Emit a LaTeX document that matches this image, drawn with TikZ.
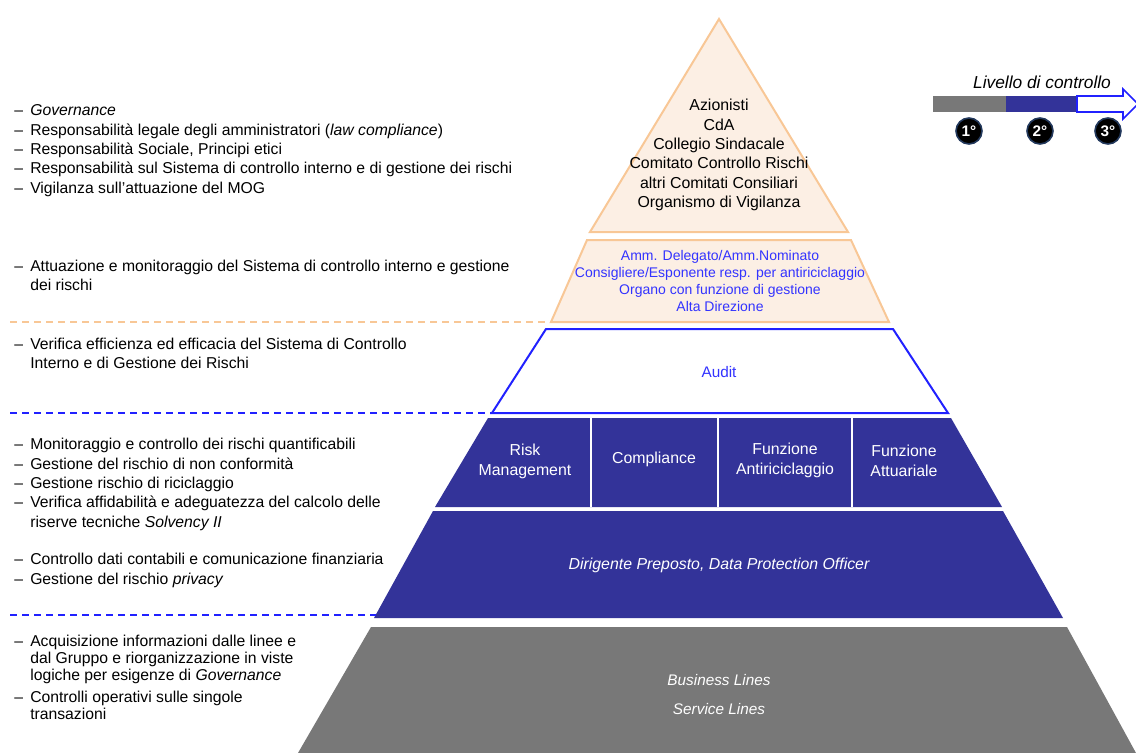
\documentclass[tikz,border=0pt]{standalone}
\usepackage{fontspec}
\setmainfont{Liberation Sans}
\usepackage{tikz}
\definecolor{cr_blu}{HTML}{333399}
\definecolor{cr_grigio}{HTML}{787878}
\definecolor{cr_pesca}{HTML}{FCEFE4}
\definecolor{cr_arancio}{HTML}{F8C796}
\definecolor{cr_linea}{HTML}{2121FF}
\definecolor{cr_testo}{HTML}{3333FF}
\definecolor{cr_bordo}{HTML}{23395D}
\newcommand{\voce}{\makebox[12pt][l]{–}}
\newcommand{\rientro}{\hspace*{12pt}}

\begin{document}
\begin{tikzpicture}[x=0.75pt, y=-0.75pt,
    elenco/.style={anchor=west, inner sep=0pt, align=left, font=\fontsize{11.8}{14.5}\selectfont},
    livello/.style={line width=1.5pt},
    bianco/.style={text=white, align=center, font=\fontsize{11.9}{15}\selectfont},
    grado/.style={circle, fill=black, draw=cr_bordo, line width=1.2pt, minimum size=19.5pt, inner sep=0pt, text=white, font=\bfseries\fontsize{11.5}{13}\selectfont},
    traccia/.style={dashed, line width=1.5pt, dash pattern=on 5.5pt off 3.5pt}]
    \useasboundingbox (0,0) rectangle (1136,753);

    % vertici della piramide
    \coordinate (apice) at (719,19);
    \coordinate (t_sx) at (590,232);
    \coordinate (t_dx) at (848,232);
    \coordinate (o_nw) at (587,240);
    \coordinate (o_ne) at (851,240);
    \coordinate (o_se) at (889,322);
    \coordinate (o_sw) at (551,322);
    \coordinate (a_nw) at (546,329);
    \coordinate (a_ne) at (893,329);
    \coordinate (a_se) at (948,413);
    \coordinate (a_sw) at (492,413);
    \coordinate (r_nw) at (488,418);
    \coordinate (r_ne) at (951,418);
    \coordinate (r_se) at (1002,507);
    \coordinate (r_sw) at (435,507);
    \coordinate (d_nw) at (433,511);
    \coordinate (d_ne) at (1003,511);
    \coordinate (d_se) at (1063,618);
    \coordinate (d_sw) at (374,618);
    \coordinate (g_nw) at (371,627);
    \coordinate (g_ne) at (1067,627);
    \coordinate (g_se) at (1136,753);
    \coordinate (g_sw) at (298,753);

    \filldraw[fill=cr_pesca, draw=cr_arancio, livello] (apice) -- (t_dx) -- (t_sx) -- cycle;
    \filldraw[fill=cr_pesca, draw=cr_arancio, livello] (o_nw) -- (o_ne) -- (o_se) -- (o_sw) -- cycle;
    \filldraw[fill=white, draw=cr_linea, livello] (a_nw) -- (a_ne) -- (a_se) -- (a_sw) -- cycle;
    \fill[cr_blu] (r_nw) -- (r_ne) -- (r_se) -- (r_sw) -- cycle;
    \fill[cr_blu] (d_nw) -- (d_ne) -- (d_se) -- (d_sw) -- cycle;
    \fill[cr_grigio] (g_nw) -- (g_ne) -- (g_se) -- (g_sw) -- cycle;
    \foreach \xx in {591,718,852}
        \draw[white, livello] (\xx,418) -- (\xx,507);

    % linee di separazione
    \coordinate (l1) at (10,322);
    \coordinate (l2) at (10,413);
    \coordinate (l3) at (10,615);
    \coordinate (l3e) at (376,615);
    \draw[traccia, cr_arancio] (l1) -- (o_sw);
    \draw[traccia, cr_linea] (l2) -- (a_sw);
    \draw[traccia, cr_linea] (l3) -- (l3e);

    % testi nella piramide
    \node[align=center, font=\fontsize{11.9}{14.5}\selectfont] (vertice) at (719,155)
        {Azionisti\\CdA\\Collegio Sindacale\\Comitato Controllo Rischi\\altri Comitati Consiliari\\Organismo di Vigilanza};
    \node[align=center, text=cr_testo, font=\fontsize{10.5}{12.75}\selectfont] (direzione) at (720,281)
        {Amm. Delegato/Amm.Nominato\\Consigliere/Esponente resp. per antiriciclaggio\\Organo con funzione di gestione\\Alta Direzione};
    \node[text=cr_testo, font=\fontsize{11.5}{13}\selectfont] (audit) at (719,372) {Audit};
    \node[bianco] (risk) at (525,461) {Risk\\Management};
    \node[bianco] (compliance) at (654,459) {Compliance};
    \node[bianco] (antiric) at (785,460) {Funzione\\Antiriciclaggio};
    \node[bianco] (attuariale) at (904,461) {Funzione\\Attuariale};
    \node[bianco, font=\itshape\fontsize{11.9}{14}\selectfont] (dirigente) at (719,565) {Dirigente Preposto, Data Protection Officer};
    \node[bianco, font=\itshape\fontsize{11.5}{13}\selectfont] (business) at (719,680) {Business Lines};
    \node[bianco, font=\itshape\fontsize{11.5}{13}\selectfont] (service) at (719,709) {Service Lines};

    % elenchi a sinistra
    \node[elenco] (governo) at (14,150.5)
        {\voce\textit{Governance}\\
         \voce Responsabilità legale degli amministratori (\textit{law compliance})\\
         \voce Responsabilità Sociale, Principi etici\\
         \voce Responsabilità sul Sistema di controllo interno e di gestione dei rischi\\
         \voce Vigilanza sull’attuazione del MOG};
    \node[elenco] (attuazione) at (14,275.5)
        {\voce Attuazione e monitoraggio del Sistema di controllo interno e gestione\\
         \rientro dei rischi};
    \node[elenco] (verifica) at (14,353.5)
        {\voce Verifica efficienza ed efficacia del Sistema di Controllo\\
         \rientro Interno e di Gestione dei Rischi};
    \node[elenco] (monitoraggio) at (14,484.5)
        {\voce Monitoraggio e controllo dei rischi quantificabili\\
         \voce Gestione del rischio di non conformità\\
         \voce Gestione rischio di riciclaggio\\
         \voce Verifica affidabilità e adeguatezza del calcolo delle\\
         \rientro riserve tecniche \textit{Solvency II}};
    \node[elenco] (contabili) at (14,570.5)
        {\voce Controllo dati contabili e comunicazione finanziaria\\
         \voce Gestione del rischio \textit{privacy}};
    \node[elenco, font=\fontsize{11.8}{12.75}\selectfont] (acquisizione) at (14,677.5)
        {\voce Acquisizione informazioni dalle linee e\\
         \rientro dal Gruppo e riorganizzazione in viste\\
         \rientro logiche per esigenze di \textit{Governance}\\[3.75pt]
         \voce Controlli operativi sulle singole\\
         \rientro transazioni};

    % legenda
    \node[font=\itshape\fontsize{13}{15}\selectfont] (titolo) at (1042,82) {Livello di controllo};
    \fill[cr_grigio] (933,96) rectangle (1006,112);
    \fill[cr_blu] (1006,96) rectangle (1077,112);
    \filldraw[fill=white, draw=cr_linea, line width=1.2pt]
        (1077,96) -- (1123,96) -- (1123,89) -- (1138,104) -- (1123,119) -- (1123,112) -- (1077,112) -- cycle;
    \node[grado] (primo) at (969,131) {1°};
    \node[grado] (secondo) at (1040,131) {2°};
    \node[grado] (terzo) at (1108,131) {3°};
\end{tikzpicture}
\end{document}
